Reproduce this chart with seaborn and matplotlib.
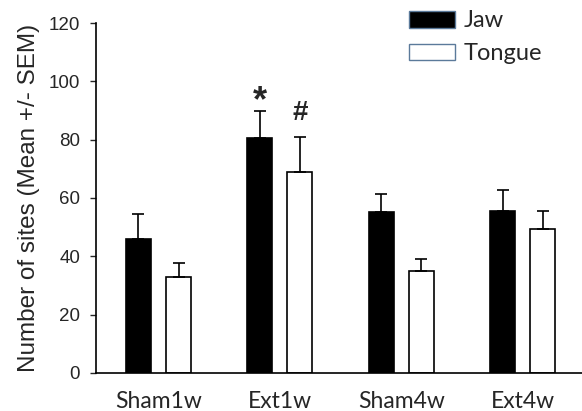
import numpy as np
import pandas as pd
import matplotlib
matplotlib.use("Agg")
import matplotlib.pyplot as plt
import seaborn as sns
from matplotlib.patches import Patch

# values
groups = ["Sham1w", "Ext1w", "Sham4w", "Ext4w"]
jaw_mean = [46, 80.5, 55.3, 55.5]
jaw_sem = [8.5, 9.2, 6.1, 7.2]
tongue_mean = [32.8, 69, 35, 49.3]
tongue_sem = [5, 11.8, 4, 6.2]
marks = {"Ext1w": ("*", "#")}

df = pd.DataFrame({
    "group": groups * 2,
    "site": ["Jaw"] * 4 + ["Tongue"] * 4,
    "mean": jaw_mean + tongue_mean,
    "sem": jaw_sem + tongue_sem,
})

sns.set_style("ticks")
plt.rcParams["font.family"] = ["Liberation Sans", "DejaVu Sans"]

fig = plt.figure(figsize=(5.82, 4.11), dpi=100)
ax = fig.add_axes([0.165, 0.0925, 0.835, 0.8515])

sns.barplot(data=df, x="group", y="mean", hue="site", order=groups,
            hue_order=["Jaw", "Tongue"],
            palette={"Jaw": "black", "Tongue": "white"},
            edgecolor="black", linewidth=1.2, width=0.66, gap=0.376,
            errorbar=None, legend=False, ax=ax)

# one-sided error bars (upper only)
bars = [p for p in ax.patches if p.get_height() > 0]
for p in bars:
    cx = p.get_x() + p.get_width() / 2
    h = p.get_height()
    row = df[np.isclose(df["mean"], h)].iloc[0]
    ax.errorbar(cx, h, yerr=[[0], [row["sem"]]], fmt="none", ecolor="black",
                elinewidth=1.2, capsize=4, capthick=1.2, zorder=1)

# significance marks above Ext1w
gi = groups.index("Ext1w")
ax.text(gi - 0.165, jaw_mean[gi] + jaw_sem[gi] - 2.5, marks["Ext1w"][0],
        ha="center", va="bottom", fontsize=26, fontweight="bold")
ax.text(gi + 0.165, tongue_mean[gi] + tongue_sem[gi] + 3.8, marks["Ext1w"][1],
        ha="center", va="bottom", fontsize=20, fontweight="bold")

ax.set_ylim(0, 120)
ax.set_xlim(-0.515, 3.49)
ax.set_yticks(range(0, 121, 20))
ax.set_xlabel("")
ax.set_ylabel("Number of sites (Mean +/- SEM)", fontsize=17.5, labelpad=6)
ax.tick_params(axis="y", labelsize=13.5, length=4.5, width=1, direction="out", pad=7)
ax.tick_params(axis="x", length=0, pad=13)
for lab in ax.get_xticklabels():
    lab.set_fontfamily(["Lato", "DejaVu Sans"])
    lab.set_fontsize(16.5)
sns.despine(ax=ax)
for s in ["left", "bottom"]:
    ax.spines[s].set_linewidth(1.2)
    ax.spines[s].set_color("black")

handles = [Patch(facecolor="black", edgecolor="#5b7a9a", label="Jaw"),
           Patch(facecolor="white", edgecolor="#5b7a9a", label="Tongue")]
leg = ax.legend(handles=handles, loc="upper left", bbox_to_anchor=(0.625, 1.063),
                frameon=False, handlelength=1.95, handleheight=0.72,
                handletextpad=0.35, labelspacing=0.5, borderaxespad=0,
                prop={"family": ["Lato", "DejaVu Sans"], "size": 17})

fig.savefig("out.png", dpi=100)
